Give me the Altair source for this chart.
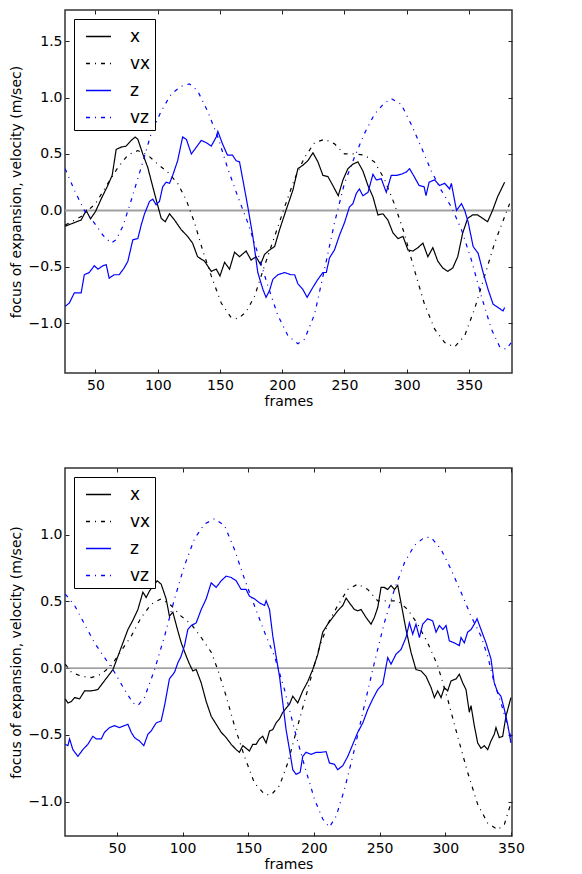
import altair as alt
import pandas as pd

SERIES = ["x", "vx", "z", "vz"]
COLORS = ["#000000", "#000000", "#0000ff", "#0000ff"]
DASHES = [[1, 0], [4, 5, 1, 5], [1, 0], [4, 5, 1, 5]]
ZERO_LEVEL = [0.0]

# ---------------- top panel ----------------
top_x_f = [25.6, 38.5, 42.5, 46, 50, 54.5, 59.4, 63.4, 66.6, 70.6, 74.6, 78.7, 81.9, 84, 88, 92, 96, 99.6, 102.8, 106,
           109.5, 113.5, 118.8, 124, 128, 132, 137.6, 143, 147, 150, 153.7, 157.7, 161.7, 165.7, 171, 175, 179, 182.6,
           185.8, 189.8, 193.9, 197.9, 203, 208.6, 212.6, 216.6, 220.6, 224.7, 228.7, 232.7, 236.7, 240.7, 245, 248.8,
           252.8, 256.8, 260.8, 264.8, 268.9, 272.9, 276.9, 280.9, 284.9, 289, 293, 297, 301, 305, 309, 313, 317, 321,
           325, 329, 333, 337, 341, 345, 349, 353, 357, 361, 365, 369, 373, 378.7]
top_x_v = [-0.14, -0.085, 0.0, -0.075, -0.01, 0.1, 0.21, 0.31, 0.54, 0.56, 0.57, 0.62, 0.65, 0.63, 0.5, 0.38, 0.21, 0.06,
           -0.07, -0.1, -0.03, -0.085, -0.17, -0.23, -0.29, -0.41, -0.45, -0.54, -0.52, -0.58, -0.46, -0.52, -0.37, -0.41,
           -0.36, -0.44, -0.41, -0.48, -0.39, -0.35, -0.32, -0.17, 0.0, 0.18, 0.37, 0.40, 0.44, 0.51, 0.43, 0.31, 0.30,
           0.22, 0.13, 0.27, 0.37, 0.41, 0.43, 0.35, 0.22, 0.12, -0.04, -0.03, -0.085, -0.2, -0.25, -0.23, -0.35, -0.36,
           -0.33, -0.29, -0.41, -0.33, -0.45, -0.51, -0.54, -0.51, -0.41, -0.20, -0.07, -0.04, -0.04, -0.07, -0.1, 0.0,
           0.12, 0.25]

top_vx_f = [25.6, 38.5, 50, 60, 68, 76, 84, 92, 100, 108, 116, 123, 129.6, 136, 143, 151, 159, 164.4, 171, 177.8, 185.8,
            193.9, 201.9, 210, 218, 226, 234, 242, 250, 258, 266, 274, 282, 290, 298, 306, 314, 322.4, 330.5, 338.5,
            346.6, 354.6, 362.6, 370.6, 378.7, 382.7]
top_vx_v = [-0.13, -0.055, 0.06, 0.24, 0.38, 0.49, 0.53, 0.49, 0.41, 0.34, 0.24, 0.09, -0.11, -0.35, -0.58, -0.82, -0.95,
            -0.96, -0.90, -0.76, -0.49, -0.23, 0.03, 0.28, 0.47, 0.60, 0.63, 0.59, 0.50, 0.50, 0.49, 0.43, 0.28, 0.06,
            -0.2, -0.52, -0.82, -1.05, -1.17, -1.21, -1.11, -0.87, -0.58, -0.29, -0.055, 0.06]

top_z_f = [25.6, 29, 33, 38.5, 41, 45, 49, 52, 56, 58.6, 61, 65, 69, 73, 76, 80, 84, 86.7, 89.4, 93.4, 96, 98.7, 101.4,
           104, 106.8, 109.5, 112, 116, 120, 123, 127, 131, 135, 139, 143, 147, 148.3, 152, 156, 160, 163, 165.7, 168.4,
           172.4, 176.4, 180.4, 184.5, 187, 189.8, 192.5, 196.5, 201.9, 207, 210, 212.6, 216.6, 220, 224.7, 228.7,
           232.7, 235.4, 238, 242, 246, 250, 254, 256.8, 259.5, 262, 264.8, 268.9, 272.9, 275.6, 279.6, 283.6, 287.6,
           291.6, 295.6, 299.7, 302.3, 306, 310, 314, 315.5, 318, 322.4, 326.4, 330.5, 334.5, 335.9, 340, 344, 346.6,
           349.3, 353.4, 357.4, 361.4, 365.4, 369.4, 373.4, 377.4, 378.7]
top_z_v = [-0.85, -0.82, -0.73, -0.73, -0.57, -0.55, -0.49, -0.52, -0.49, -0.48, -0.6, -0.57, -0.57, -0.51, -0.45, -0.26,
           -0.25, -0.13, -0.03, 0.08, 0.1, 0.05, 0.08, 0.21, 0.25, 0.24, 0.31, 0.44, 0.65, 0.63, 0.50, 0.56, 0.62, 0.60,
           0.57, 0.65, 0.70, 0.59, 0.49, 0.49, 0.44, 0.43, 0.27, 0.03, -0.23, -0.55, -0.70, -0.77, -0.71, -0.61, -0.57,
           -0.55, -0.57, -0.57, -0.65, -0.70, -0.77, -0.68, -0.61, -0.55, -0.55, -0.42, -0.35, -0.22, -0.11, 0.03, 0.06,
           0.15, 0.19, 0.13, 0.16, 0.32, 0.27, 0.28, 0.16, 0.31, 0.31, 0.32, 0.34, 0.37, 0.30, 0.22, 0.21, 0.13, 0.25,
           0.27, 0.22, 0.24, 0.19, 0.24, 0.0, 0.06, 0.0, -0.1, -0.32, -0.38, -0.55, -0.70, -0.83, -0.86, -0.89, -0.86]

top_vz_f = [25.6, 33, 41, 49, 56, 62.6, 66.6, 72, 78.7, 86.7, 94.7, 102.8, 110.8, 118.8, 125.5, 132, 140, 148.3, 156,
            164.4, 172.4, 180.4, 188.5, 196.5, 204.6, 212.6, 218, 226, 234, 242, 250, 258, 266, 274, 282, 287.6, 295.6,
            303.7, 311.7, 319.7, 327.7, 335.9, 344, 352, 360, 368, 374.8, 380, 384]
top_vz_v = [0.37, 0.18, 0.0, -0.11, -0.22, -0.29, -0.26, -0.14, 0.09, 0.38, 0.68, 0.88, 1.03, 1.10, 1.12, 1.06, 0.88,
            0.65, 0.38, 0.12, -0.11, -0.38, -0.67, -0.93, -1.11, -1.18, -1.14, -0.92, -0.52, -0.11, 0.24, 0.47, 0.68,
            0.85, 0.95, 0.99, 0.94, 0.76, 0.56, 0.35, 0.18, 0.03, -0.17, -0.44, -0.76, -1.05, -1.21, -1.23, -1.17]

# ---------------- bottom panel ----------------
bot_x_f = [10.7, 12.7, 15.3, 17.8, 21.6, 25.4, 30.5, 35.5, 39.3, 43.2, 47, 50.8, 54.6, 58.4, 62.2, 66, 69.8, 72.3, 74.9,
           78.7, 80.7, 83.7, 87.5, 90, 92.6, 96.4, 99, 102.8, 105.3, 107.8, 110.4, 114.2, 118, 121.8, 125.6, 129.4,
           133.2, 137, 140.8, 143.3, 145.9, 148.4, 150.9, 153.5, 156, 158.5, 161, 163.6, 166.2, 168.7, 171.2, 173.8,
           176.3, 178.8, 181.4, 183.9, 187.7, 191.5, 195.3, 199.1, 203, 206.7, 210.5, 214.3, 218.1, 222, 224.5, 227,
           230.8, 233.4, 235.9, 239.7, 243.5, 246, 248.6, 251.1, 253.6, 256.2, 258.7, 261.3, 263.8, 266.3, 270.1, 273.9,
           277.7, 281.5, 285.3, 289.2, 291.7, 294.2, 296.8, 299.3, 301.8, 304.4, 308.2, 310.7, 313.3, 315.8, 318.3,
           319.6, 322.1, 324.7, 327.2, 329.7, 332.3, 334.8, 337.3, 338.6, 341.1, 343.7, 346.2, 350]
bot_x_v = [-0.23, -0.26, -0.25, -0.22, -0.23, -0.17, -0.17, -0.16, -0.11, -0.06, -0.01, 0.09, 0.19, 0.29, 0.36, 0.44,
           0.57, 0.53, 0.58, 0.63, 0.655, 0.63, 0.52, 0.39, 0.42, 0.28, 0.19, 0.09, 0.03, -0.02, -0.01, -0.11, -0.25,
           -0.36, -0.42, -0.48, -0.52, -0.57, -0.61, -0.63, -0.58, -0.60, -0.62, -0.57, -0.57, -0.53, -0.51, -0.56, -0.47,
           -0.46, -0.41, -0.38, -0.33, -0.30, -0.27, -0.21, -0.26, -0.17, -0.10, -0.01, 0.105, 0.27, 0.33, 0.38, 0.43,
           0.47, 0.525, 0.49, 0.44, 0.43, 0.44, 0.38, 0.33, 0.38, 0.455, 0.605, 0.605, 0.59, 0.62, 0.59, 0.62, 0.49, 0.29,
           0.12, -0.01, -0.02, -0.06, -0.145, -0.22, -0.17, -0.22, -0.145, -0.17, -0.095, -0.08, -0.045, -0.11, -0.16,
           -0.33, -0.28, -0.43, -0.56, -0.60, -0.58, -0.61, -0.545, -0.495, -0.445, -0.52, -0.51, -0.36, -0.22]

bot_vx_f = [10.7, 15.3, 22.9, 30.5, 38.1, 45.7, 53.3, 60.9, 68.5, 76.1, 83.7, 91.3, 98.9, 106.6, 114.2, 121.8, 126.8,
            133.2, 139.5, 147.1, 154.7, 162.4, 167.4, 173.8, 180.1, 187.7, 195.3, 203, 210.5, 218.1, 225.8, 233.4, 241,
            248.6, 256.2, 263.8, 271.4, 279, 286.6, 294.2, 301.8, 309.4, 317, 324.7, 332.3, 339.9, 345, 350]
bot_vx_v = [0.03, -0.03, -0.06, -0.07, -0.045, 0.02, 0.13, 0.24, 0.38, 0.48, 0.52, 0.47, 0.39, 0.33, 0.23, 0.12, -0.01,
            -0.21, -0.43, -0.66, -0.86, -0.945, -0.95, -0.88, -0.71, -0.43, -0.16, 0.12, 0.33, 0.47, 0.59, 0.63, 0.59,
            0.505, 0.505, 0.505, 0.44, 0.33, 0.19, 0.02, -0.23, -0.51, -0.78, -1.02, -1.16, -1.21, -1.17, -1.01]

bot_z_f = [10.7, 12.7, 14, 16.5, 20.3, 24.1, 27.9, 31.7, 34.3, 38.1, 40.6, 44.4, 48.2, 52, 55.8, 58.4, 60.9, 63.4, 67.2,
           70.5, 73.6, 76.1, 79.9, 83.7, 86.3, 90, 93.9, 96.4, 98.9, 101.5, 104, 106.6, 110.4, 114.2, 118, 121.8, 125.6,
           129.4, 133.2, 137, 140.8, 144.6, 148.4, 150.9, 154.7, 158.5, 162.4, 163.6, 166.2, 168.7, 171.2, 173.8, 176.3,
           178.8, 181.4, 183.9, 186.4, 189.5, 191.5, 194, 197.9, 201.7, 205.5, 209.3, 211.8, 215.6, 218.1, 222, 225.8,
           229.6, 233.4, 237.2, 241, 244.8, 248.6, 252.4, 256.2, 258.7, 262.5, 266.3, 270.1, 272.7, 275.2, 277.7, 280.3,
           282.8, 286.6, 290.4, 293, 295.5, 298.1, 300.6, 303.1, 306.9, 310.7, 312, 314.5, 317, 319.6, 322.1, 324.2,
           327.2, 331, 334.8, 337.3, 339.9, 342.4, 345, 347.5, 350]
bot_z_v = [-0.57, -0.58, -0.53, -0.61, -0.66, -0.61, -0.57, -0.51, -0.53, -0.53, -0.48, -0.445, -0.43, -0.445, -0.43,
           -0.42, -0.48, -0.52, -0.545, -0.58, -0.495, -0.47, -0.41, -0.395, -0.28, -0.08, -0.03, 0.04, 0.09, 0.17, 0.29,
           0.32, 0.34, 0.44, 0.52, 0.64, 0.605, 0.655, 0.69, 0.68, 0.655, 0.59, 0.59, 0.54, 0.52, 0.49, 0.47, 0.505, 0.44,
           0.24, 0.09, -0.06, -0.26, -0.46, -0.61, -0.76, -0.795, -0.78, -0.66, -0.63, -0.645, -0.63, -0.63, -0.625,
           -0.71, -0.72, -0.76, -0.73, -0.66, -0.57, -0.48, -0.41, -0.31, -0.23, -0.16, -0.12, 0.08, 0.03, 0.105, 0.14,
           0.23, 0.34, 0.255, 0.33, 0.23, 0.33, 0.37, 0.355, 0.27, 0.32, 0.29, 0.32, 0.205, 0.19, 0.17, 0.23, 0.19, 0.27,
           0.29, 0.33, 0.37, 0.29, 0.19, 0.07, -0.11, -0.18, -0.21, -0.31, -0.42, -0.56]

bot_vz_f = [10.7, 17.8, 25.4, 33, 40.6, 48.2, 55.8, 62.2, 66, 71, 78.7, 86.3, 93.9, 101.5, 109.1, 116.7, 124.3, 131.9,
            139.5, 147.1, 154.7, 162.4, 170, 177.6, 185.2, 192.8, 200.4, 206.7, 211.8, 216.9, 223.2, 230.8, 238.4, 246,
            253.6, 261.3, 268.9, 276.5, 284.1, 289.2, 296.8, 304.4, 312, 319.6, 327.2, 332.3, 337.3, 342.4, 347.5, 350]
bot_vz_v = [0.555, 0.47, 0.33, 0.19, 0.08, -0.03, -0.16, -0.26, -0.28, -0.22, -0.01, 0.24, 0.52, 0.77, 0.97, 1.08, 1.12,
            1.07, 0.89, 0.67, 0.47, 0.27, 0.09, -0.16, -0.46, -0.73, -0.98, -1.13, -1.19, -1.11, -0.91, -0.61, -0.28,
            0.04, 0.34, 0.59, 0.79, 0.92, 0.98, 0.98, 0.89, 0.74, 0.57, 0.39, 0.24, 0.09, -0.11, -0.26, -0.43, -0.52]

TOP_XDOM = [25.5, 384.6]
TOP_YDOM = [-1.44, 1.775]
TOP_XTICKS = [50, 100, 150, 200, 250, 300, 350]
TOP_YTICKS = [-1.0, -0.5, 0.0, 0.5, 1.0, 1.5]
BOT_XDOM = [10.5, 350.8]
BOT_YDOM = [-1.257, 1.5]
BOT_XTICKS = [50, 100, 150, 200, 250, 300, 350]
BOT_YTICKS = [-1.0, -0.5, 0.0, 0.5, 1.0]

FONT = "DejaVu Sans"


def table(parts):
    rows = []
    for name, fs, vs in parts:
        assert len(fs) == len(vs), name
        rows += [{"frame": f, "value": v, "series": name} for f, v in zip(fs, vs)]
    return pd.DataFrame(rows)


def panel(df, xdom, ydom, xticks, yticks, zero_color, zero_width, w, h):
    xs = alt.Scale(domain=xdom, nice=False, zero=False)
    ys = alt.Scale(domain=ydom, nice=False, zero=False)
    legend = alt.Legend(
        title=None, orient="top-left", offset=9, symbolType="stroke", symbolSize=625,
        symbolStrokeWidth=1.3, labelFontSize=17, labelFont=FONT, labelColor="black",
        labelOffset=18, padding=4, symbolOffset=7, rowPadding=5, strokeColor="black",
        fillColor="white", cornerRadius=0, labelLimit=0,
    )
    zero = alt.Chart(pd.DataFrame({"level": ZERO_LEVEL})).mark_rule(
        color=zero_color, strokeWidth=zero_width
    ).encode(y=alt.Y("level:Q", scale=ys, axis=None))
    lines = alt.Chart(df).mark_line(strokeWidth=1.2, clip=True).encode(
        x=alt.X("frame:Q", scale=xs, axis=alt.Axis(
            orient="bottom", values=xticks, format="d", title="frames", offset=-4, tickSize=4,
            labelPadding=5, titlePadding=2, labelFlush=False, labelOverlap=False)),
        y=alt.Y("value:Q", scale=ys, axis=alt.Axis(
            orient="left", values=yticks, format=".1f", title="focus of expansion, velocity (m/sec)",
            offset=-4, tickSize=4, labelPadding=3, titlePadding=5, labelFlush=False, labelOverlap=False)),
        color=alt.Color("series:N", scale=alt.Scale(domain=SERIES, range=COLORS), legend=legend),
        strokeDash=alt.StrokeDash("series:N", scale=alt.Scale(domain=SERIES, range=DASHES), legend=legend),
    )
    ghost = alt.Chart(df).mark_line(strokeOpacity=0, clip=True).encode(
        x=alt.X("frame:Q", scale=xs, title=None, axis=alt.Axis(
            orient="top", values=xticks, labels=False, offset=-4, tickSize=4)),
        y=alt.Y("value:Q", scale=ys, title=None, axis=alt.Axis(
            orient="right", values=yticks, labels=False, offset=-4, tickSize=4)),
        detail="series:N",
    )
    return alt.layer(zero, lines, ghost).resolve_axis(x="independent", y="independent").properties(
        width=w, height=h)


top_df = table([("x", top_x_f, top_x_v), ("vx", top_vx_f, top_vx_v),
                ("z", top_z_f, top_z_v), ("vz", top_vz_f, top_vz_v)])
bot_df = table([("x", bot_x_f, bot_x_v), ("vx", bot_vx_f, bot_vx_v),
                ("z", bot_z_f, bot_z_v), ("vz", bot_vz_f, bot_vz_v)])

top = panel(top_df, TOP_XDOM, TOP_YDOM, TOP_XTICKS, TOP_YTICKS, "#a0a0a0", 2, 447, 363)
bottom = panel(bot_df, BOT_XDOM, BOT_YDOM, BOT_XTICKS, BOT_YTICKS, "#808080", 1.3, 447, 368)

chart = alt.vconcat(top, bottom, spacing=95, bounds="flush", padding=0).resolve_scale(
    color="independent", strokeDash="independent"
).configure_axis(
    labelFont=FONT, labelFontSize=14, labelColor="black", titleFont=FONT, titleFontSize=14,
    titleFontWeight="normal", titleColor="black", tickColor="#222222", tickWidth=1,
    grid=False, domain=False,
).configure_view(stroke="#333333", strokeWidth=1.5)

chart.save("out.html", embed_options={"renderer": "svg", "actions": False})
